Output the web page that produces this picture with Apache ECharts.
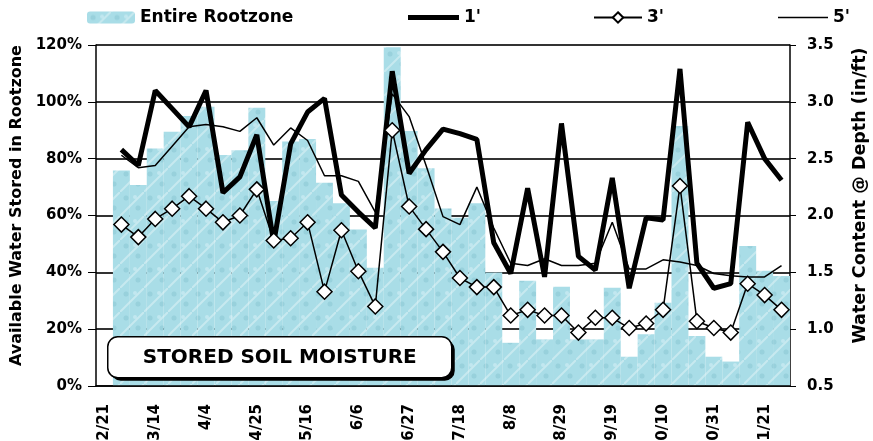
<!DOCTYPE html>
<html>
<head>
<meta charset="utf-8">
<script src="https://cdn.jsdelivr.net/npm/echarts@6/dist/echarts.min.js"></script>
<style>
  html, body { margin: 0; padding: 0; background: #fff; }
  #chart { width: 873px; height: 441px; }
</style>
</head>
<body>
<div id="chart"></div>
<script>
// weekly readings, first week has no data
const weeks = ['2/21', '2/28', '3/7', '3/14', '3/21', '3/28', '4/4', '4/11', '4/18', '4/25',
  '5/2', '5/9', '5/16', '5/23', '5/30', '6/6', '6/13', '6/20', '6/27', '7/4',
  '7/11', '7/18', '7/25', '8/1', '8/8', '8/15', '8/22', '8/29', '9/5', '9/12',
  '9/19', '9/26', '10/3', '10/10', '10/17', '10/24', '10/31', '11/7', '11/14', '11/21', '11/28']

// % of available water in entire rootzone
const rootzone = [null, 75.8, 70.7, 83.6, 89.5, 95.0, 98.3, 81.3, 83.0, 97.9, 65.1,
  86.0, 86.9, 71.5, 64.3, 55.1, 41.6, 119.2, 89.7, 76.6, 62.5,
  59.2, 64.3, 39.9, 15.2, 37.0, 16.4, 34.9, 16.4, 16.4, 34.6,
  10.3, 18.2, 29.3, 91.5, 17.6, 10.3, 8.6, 49.3, 40.6, 38.7]

// water content (in/ft) at depth
const depth1 = [null, 2.58, 2.44, 3.10, 2.94, 2.78, 3.10, 2.20, 2.34, 2.71, 1.76,
  2.63, 2.91, 3.03, 2.18, 2.03, 1.89, 3.27, 2.37, 2.58, 2.76,
  2.72, 2.67, 1.76, 1.49, 2.24, 1.46, 2.81, 1.64, 1.52, 2.33,
  1.36, 1.98, 1.96, 3.29, 1.58, 1.36, 1.40, 2.82, 2.50, 2.31]
const depth3 = [null, 1.92, 1.81, 1.97, 2.06, 2.17, 2.06, 1.94, 2.00, 2.23, 1.78,
  1.80, 1.94, 1.33, 1.87, 1.51, 1.20, 2.75, 2.08, 1.88, 1.68,
  1.45, 1.37, 1.37, 1.12, 1.17, 1.12, 1.12, 0.97, 1.10, 1.10,
  1.01, 1.05, 1.17, 2.26, 1.07, 1.01, 0.97, 1.40, 1.30, 1.17]
const depth5 = [null, 2.53, 2.42, 2.44, 2.61, 2.78, 2.80, 2.78, 2.74, 2.86, 2.62,
  2.77, 2.66, 2.35, 2.35, 2.30, 2.03, 3.07, 2.87, 2.44, 1.99,
  1.92, 2.25, 1.89, 1.58, 1.56, 1.62, 1.56, 1.56, 1.58, 1.94,
  1.53, 1.53, 1.61, 1.59, 1.56, 1.49, 1.47, 1.46, 1.46, 1.56]

const FONT = 'DejaVu Sans'

// light cyan texture for the bars
function makeTexture() {
  const c = document.createElement('canvas')
  c.width = 24
  c.height = 24
  const ctx = c.getContext('2d')
  ctx.fillStyle = '#a9dde7'
  ctx.fillRect(0, 0, 24, 24)
  ctx.strokeStyle = 'rgba(255,255,255,0.35)'
  ctx.lineWidth = 2
  ctx.beginPath()
  ctx.moveTo(0, 24); ctx.lineTo(24, 0)
  ctx.stroke()
  ctx.fillStyle = 'rgba(120,185,200,0.35)'
  ctx.beginPath(); ctx.arc(6, 6, 2.5, 0, Math.PI * 2); ctx.fill()
  ctx.beginPath(); ctx.arc(18, 16, 2.5, 0, Math.PI * 2); ctx.fill()
  ctx.fillStyle = 'rgba(225,245,250,0.45)'
  ctx.beginPath(); ctx.arc(15, 5, 2, 0, Math.PI * 2); ctx.fill()
  return c
}

const chart = echarts.init(document.getElementById('chart'))

function oneLegend(item, left, w, h) {
  return {
    data: [item],
    left: left,
    top: 9,
    itemWidth: w,
    itemHeight: h,
    padding: 0,
    selectedMode: false,
    textStyle: { fontFamily: FONT, fontWeight: 'bold', fontSize: 17, color: '#000' }
  }
}

chart.setOption({
  animation: false,
  backgroundColor: '#fff',
  legend: [
    oneLegend('Entire Rootzone', 87, 48, 12),
    oneLegend({ name: "1'", icon: 'rect' }, 408, 51, 5),
    oneLegend("3'", 593, 48, 13),
    oneLegend({ name: "5'", icon: 'rect' }, 778, 50, 1.5)
  ],
  grid: { left: 96, right: 83, top: 45, bottom: 55, outerBoundsMode: 'none', containLabel: false },
  xAxis: {
    type: 'category',
    data: weeks,
    boundaryGap: true,
    z: 10,
    axisLine: { lineStyle: { color: '#000', width: 1.5 } },
    axisTick: { interval: 0, length: 7, lineStyle: { color: '#000', width: 1.5 } },
    axisLabel: {
      interval: 2,
      rotate: 90,
      margin: 18,
      color: '#000',
      fontFamily: FONT,
      fontWeight: 'bold',
      fontSize: 15,
      // the reference clips the leading digit of two-digit months
      formatter: v => v.slice(-4)
    }
  },
  yAxis: [
    {
      type: 'value',
      min: 0,
      max: 120,
      interval: 20,
      name: 'Available Water Stored in Rootzone',
      nameLocation: 'middle',
      nameRotate: 90,
      nameGap: 70,
      nameTextStyle: { fontFamily: FONT, fontWeight: 'bold', fontSize: 16, color: '#000', padding: [0, 0, 0, 20] },
      axisLine: { show: true, lineStyle: { color: '#000', width: 1.5 } },
      axisTick: { show: true, length: 8, lineStyle: { color: '#000' } },
      axisLabel: {
        formatter: '{value}%',
        margin: 14,
        color: '#000',
        fontFamily: FONT,
        fontWeight: 'bold',
        fontSize: 15
      },
      splitLine: { lineStyle: { color: '#333', width: 2 } }
    },
    {
      type: 'value',
      position: 'right',
      min: 0.5,
      max: 3.5,
      interval: 0.5,
      name: 'Water Content @ Depth (in/ft)',
      nameLocation: 'middle',
      nameRotate: 90,
      nameGap: 61,
      nameTextStyle: { fontFamily: FONT, fontWeight: 'bold', fontSize: 17.5, color: '#000', padding: [0, 0, 0, 40] },
      axisLine: { show: true, lineStyle: { color: '#000', width: 1.5 } },
      axisTick: { show: true, length: 6, lineStyle: { color: '#000' } },
      axisLabel: {
        formatter: v => v.toFixed(1),
        margin: 17,
        color: '#000',
        fontFamily: FONT,
        fontWeight: 'bold',
        fontSize: 15
      },
      splitLine: { show: false }
    }
  ],
  series: [
    {
      name: 'Entire Rootzone',
      type: 'bar',
      yAxisIndex: 0,
      barCategoryGap: '0%',
      data: rootzone,
      itemStyle: { color: { image: makeTexture(), repeat: 'repeat' } },
      z: 1
    },
    {
      name: "1'",
      type: 'line',
      yAxisIndex: 1,
      data: depth1,
      symbol: 'none',
      lineStyle: { color: '#000', width: 5 },
      itemStyle: { color: '#000' },
      z: 4
    },
    {
      name: "3'",
      type: 'line',
      yAxisIndex: 1,
      data: depth3,
      symbol: 'diamond',
      symbolSize: 15,
      showAllSymbol: true,
      lineStyle: { color: '#000', width: 1.5 },
      itemStyle: { color: '#fff', borderColor: '#000', borderWidth: 1.5 },
      z: 5
    },
    {
      name: "5'",
      type: 'line',
      yAxisIndex: 1,
      data: depth5,
      symbol: 'none',
      lineStyle: { color: '#000', width: 1.5 },
      itemStyle: { color: '#000' },
      z: 3
    }
  ],
  graphic: [
    {
      type: 'group',
      left: 107,
      top: 336,
      z: 100,
      children: [
        { type: 'rect', z: 100, shape: { x: 3, y: 3, width: 344, height: 41, r: 10 }, style: { fill: '#000' } },
        { type: 'rect', z: 101, shape: { x: 0, y: 0, width: 344, height: 41, r: 10 }, style: { fill: '#fff', stroke: '#000', lineWidth: 1.5 } },
        {
          type: 'text',
          z: 102,
          x: 172,
          y: 21,
          style: {
            text: 'STORED SOIL MOISTURE',
            align: 'center',
            verticalAlign: 'middle',
            font: 'bold 20px "DejaVu Sans"',
            fill: '#000'
          }
        }
      ]
    }
  ]
})
</script>
</body>
</html>
